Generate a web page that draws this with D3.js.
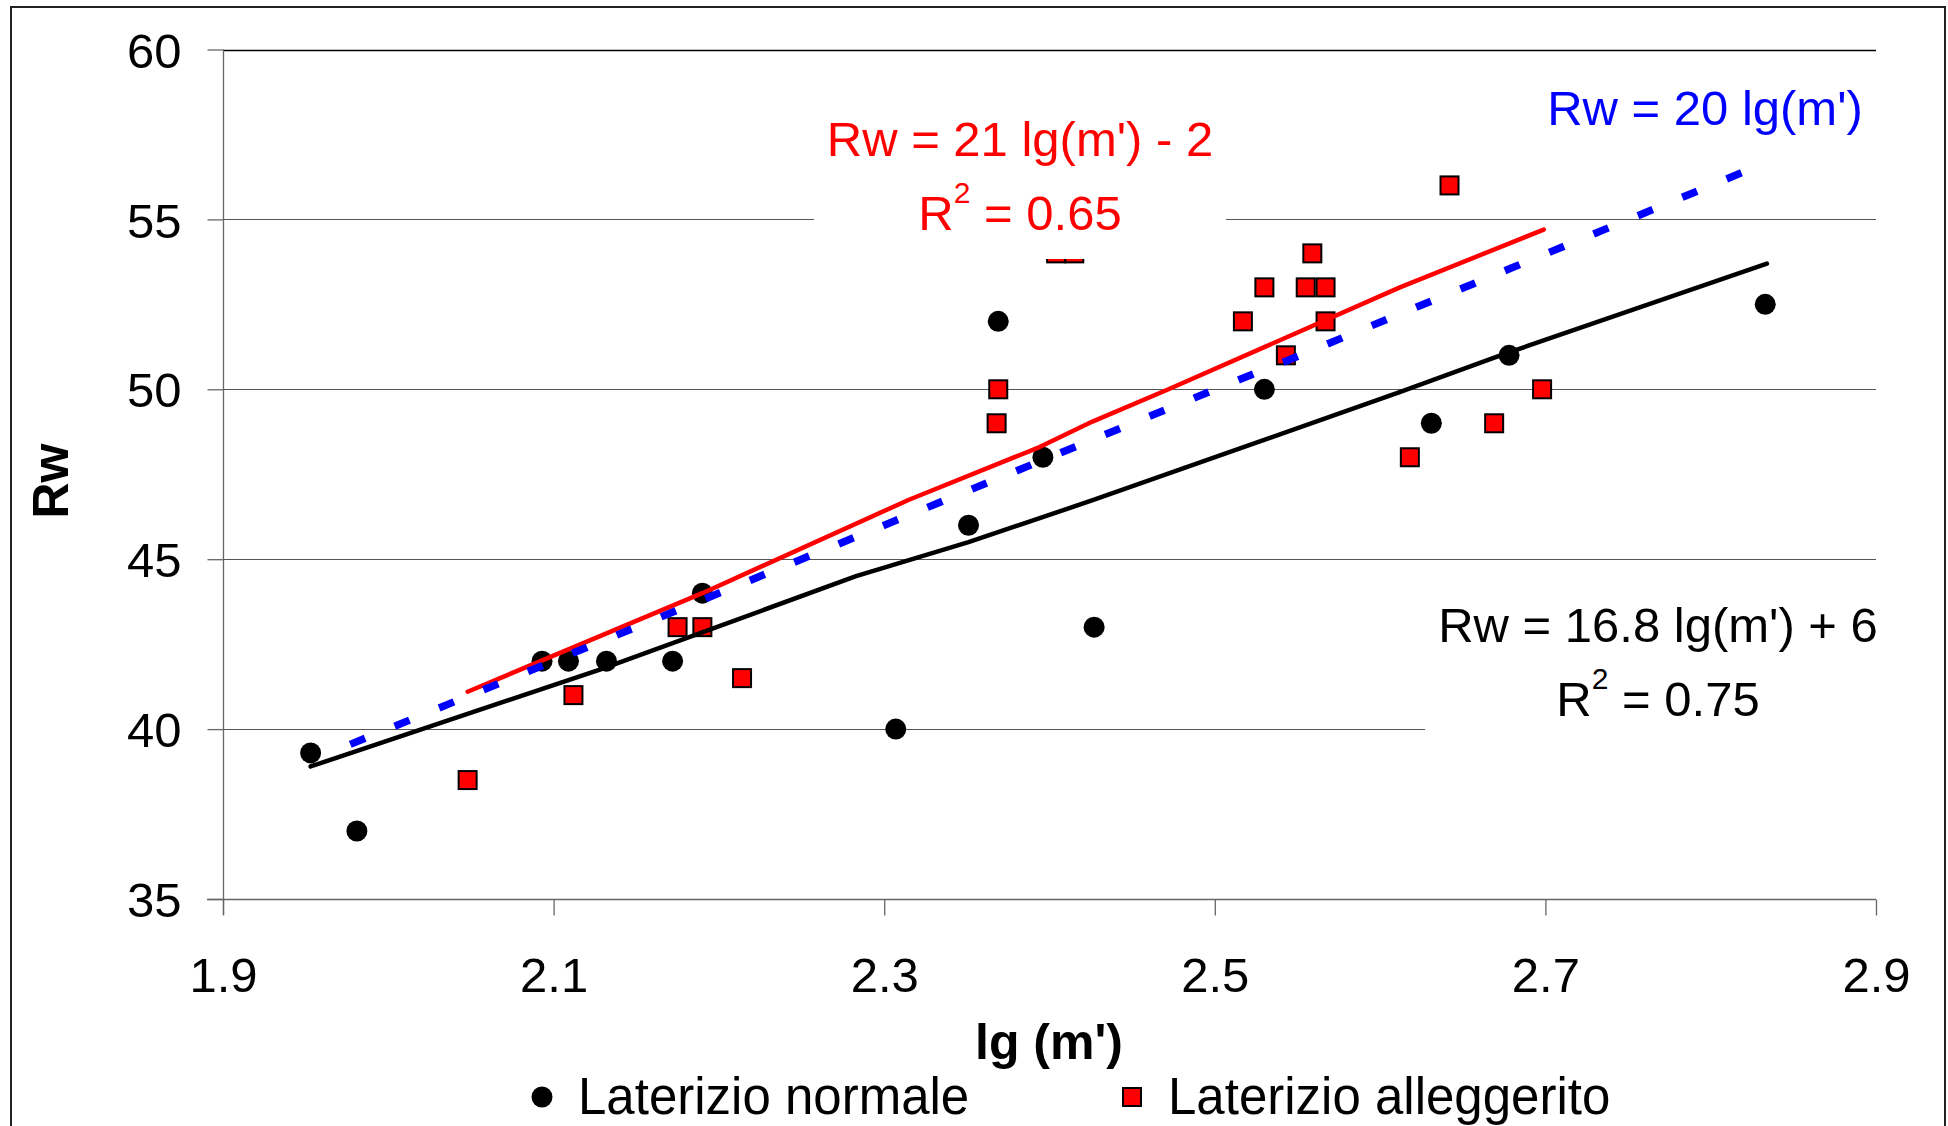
<!DOCTYPE html>
<html>
<head>
<meta charset="utf-8">
<script src="https://cdn.jsdelivr.net/npm/d3@7"></script>
<style>
  html, body { margin:0; padding:0; background:#fff; }
  svg { display:block; font-family: "Liberation Sans", Arial, sans-serif; }
</style>
</head>
<body>
<svg id="chart" width="1948" height="1126"></svg>
<script>
/* Rw vs lg(m') scatter, two brick types, with fitted lines and labels */

// ---- data -------------------------------------------------------------
var normLg = [1.953, 1.981, 2.093, 2.109, 2.132, 2.172, 2.190, 2.307, 2.351, 2.369, 2.396, 2.427, 2.530, 2.631, 2.678, 2.833];
var normRw = [39.3, 37, 42, 42, 42, 42, 44, 40, 46, 52, 48, 43, 50, 49, 51, 52.5];

var allegLg = [2.048, 2.112, 2.175, 2.190, 2.214, 2.368, 2.369, 2.404, 2.415, 2.517, 2.530, 2.543, 2.555, 2.559, 2.567, 2.567, 2.618, 2.642, 2.669, 2.698];
var allegRw = [38.5, 41, 43, 43, 41.5, 49, 50, 54, 54, 52, 53, 51, 53, 54, 53, 52, 48, 56, 49, 50];

// fitted lines (vertices as drawn in the picture)
var fitNormLg = [1.953, 2.128, 2.283, 2.351, 2.427, 2.611, 2.677, 2.834];
var fitNormRw = [38.9, 41.75, 44.5, 45.5, 46.75, 49.9, 51.07, 53.7];
var fitAllegLg = [2.048, 2.19, 2.315, 2.394, 2.426, 2.472, 2.612, 2.699];
var fitAllegRw = [41.1, 44.0, 46.75, 48.3, 49.05, 50.0, 53.0, 54.7];
var refLg = [1.977, 2.19, 2.37, 2.518, 2.544, 2.679, 2.83];
var refRw = [39.55, 43.8, 47.4, 50.35, 50.85, 53.56, 56.6];

var xTicks = [1.9, 2.1, 2.3, 2.5, 2.7, 2.9];
var yTicks = [35, 40, 45, 50, 55, 60];
var legendNames = ["Laterizio normale", "Laterizio alleggerito"];

// ---- layout -----------------------------------------------------------
var svg = d3.select("#chart");
var FS = 49;
var x = d3.scaleLinear().domain([1.9, 2.9]).range([223, 1876]);
var y = d3.scaleLinear().domain([35, 60]).range([899, 49.5]);

// outer frame
svg.append("rect").attr("x", 11).attr("y", 7).attr("width", 1934).attr("height", 1140)
  .attr("fill", "none").attr("stroke", "#222").attr("stroke-width", 2);

// gridlines
svg.append("g").selectAll("line").data(yTicks.slice(1)).join("line")
  .attr("x1", x(1.9)).attr("x2", x(2.9))
  .attr("y1", function(d){ return Math.round(y(d)) + 0.5; })
  .attr("y2", function(d){ return Math.round(y(d)) + 0.5; })
  .attr("stroke", function(d){ return d === 60 ? "#000" : "#555"; })
  .attr("stroke-width", function(d){ return d === 60 ? 1.6 : 1.2; });

// axes
var gx = svg.append("g").attr("transform", "translate(0," + (Math.round(y(35)) + 0.5) + ")")
  .call(d3.axisBottom(x).tickValues(xTicks).tickSize(16).tickSizeOuter(0).tickFormat(d3.format(".1f")));
var gy = svg.append("g").attr("transform", "translate(" + (Math.round(x(1.9)) + 0.5) + ",0)")
  .call(d3.axisLeft(y).tickValues(yTicks).tickSize(16).tickSizeOuter(0).tickFormat(d3.format("d")));
[gx, gy].forEach(function(g){
  g.select(".domain").attr("stroke", "#666").attr("stroke-width", 1.3);
  g.selectAll(".tick line").attr("stroke", "#666").attr("stroke-width", 1.3);
  g.selectAll("text").attr("fill", "#000").attr("font-size", FS)
    .attr("font-family", "'Liberation Sans', Arial, sans-serif");
});
gy.select(".domain").attr("d", "M0," + y(60) + "V" + (y(35) + 16));
gx.select(".domain").attr("d", "M-16,0H" + (x(2.9) - x(1.9)));
gx.select(".domain").attr("transform", "translate(" + x(1.9) + ",0)");
gx.selectAll(".tick text").attr("y", 92).attr("dy", 0);
gy.selectAll(".tick text").attr("x", -42).attr("dy", "0.36em");

// axis titles
svg.append("text").attr("x", 1049).attr("y", 1059).attr("text-anchor", "middle")
  .attr("font-size", 50).attr("font-weight", "bold").text("lg (m')");
svg.append("text").attr("transform", "translate(68,481) rotate(-90)").attr("text-anchor", "middle")
  .attr("font-size", 50).attr("font-weight", "bold").text("Rw");

// points
svg.append("g").selectAll("circle").data(normLg).join("circle")
  .attr("cx", function(d){ return x(d); })
  .attr("cy", function(d, i){ return y(normRw[i]); })
  .attr("r", 10.5).attr("fill", "#000");
svg.append("g").selectAll("rect").data(allegLg).join("rect")
  .attr("x", function(d){ return x(d) - 9; })
  .attr("y", function(d, i){ return y(allegRw[i]) - 9; })
  .attr("width", 18).attr("height", 18)
  .attr("fill", "#ff0000").attr("stroke", "#000").attr("stroke-width", 2);

// fitted lines
var line = d3.line().x(function(d){ return x(d[0]); }).y(function(d){ return y(d[1]); });
function pairs(a, b){ return a.map(function(v, i){ return [v, b[i]]; }); }
svg.append("path").attr("d", line(pairs(fitNormLg, fitNormRw)))
  .attr("fill", "none").attr("stroke", "#000").attr("stroke-width", 4.5)
  .attr("stroke-linecap", "round").attr("stroke-linejoin", "round");
svg.append("path").attr("d", line(pairs(fitAllegLg, fitAllegRw)))
  .attr("fill", "none").attr("stroke", "#ff0000").attr("stroke-width", 4.5)
  .attr("stroke-linecap", "round").attr("stroke-linejoin", "round");
svg.append("path").attr("d", line(pairs(refLg, refRw)))
  .attr("fill", "none").attr("stroke", "#0000ff").attr("stroke-width", 7.5)
  .attr("stroke-dasharray", "16,32");

// equation labels (white boxes, drawn over the plot like the original)
function label(cx, top, w, h, lines, color) {
  svg.append("rect").attr("x", cx - w / 2).attr("y", top).attr("width", w).attr("height", h).attr("fill", "#fff");
  lines.forEach(function(l){
    var t = svg.append("text").attr("x", cx).attr("y", l.y).attr("text-anchor", "middle")
      .attr("font-size", FS).attr("fill", color);
    if (l.r2) {
      t.append("tspan").text("R");
      t.append("tspan").attr("font-size", 30).attr("dy", -27).text("2");
      t.append("tspan").attr("dy", 27).text(" = " + l.r2);
    } else t.text(l.t);
  });
}
label(1020, 95, 412, 164, [{ y: 156, t: "Rw = 21 lg(m') - 2" }, { y: 230, r2: "0.65" }], "#ff0000");
label(1705, 80, 340, 70, [{ y: 125, t: "Rw = 20 lg(m')" }], "#0000ff");
label(1658, 590, 466, 146, [{ y: 642, t: "Rw = 16.8 lg(m') + 6" }, { y: 716, r2: "0.75" }], "#000");

// legend
svg.append("circle").attr("cx", 542).attr("cy", 1097).attr("r", 10.5).attr("fill", "#000");
svg.append("text").attr("x", 578).attr("y", 1114).attr("font-size", 51).text(legendNames[0]);
svg.append("rect").attr("x", 1123).attr("y", 1088).attr("width", 18).attr("height", 18)
  .attr("fill", "#ff0000").attr("stroke", "#000").attr("stroke-width", 2);
svg.append("text").attr("x", 1168).attr("y", 1114).attr("font-size", 51).text(legendNames[1]);
</script>
</body>
</html>
